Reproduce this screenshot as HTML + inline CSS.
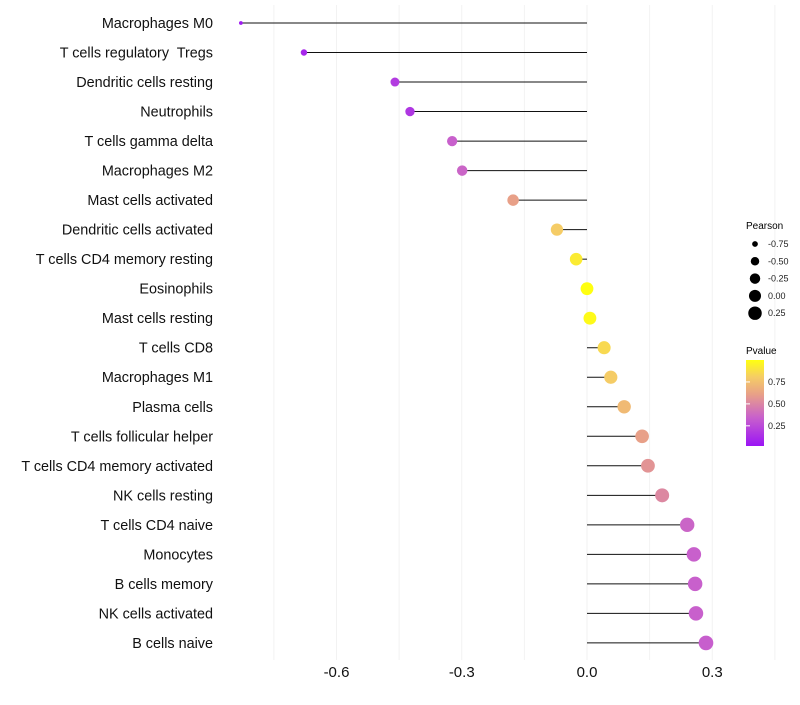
<!DOCTYPE html>
<html><head><meta charset="utf-8"><style>
body{margin:0;background:#fff;font-family:"Liberation Sans",sans-serif}
text{white-space:pre}
</style></head><body>
<svg id="chart" width="800" height="700" xmlns="http://www.w3.org/2000/svg">
<defs><linearGradient id="pg" x1="0" y1="1" x2="0" y2="0">
<stop offset="0" stop-color="#9b14f5"/><stop offset="0.33" stop-color="#c860cc"/>
<stop offset="0.6" stop-color="#e8a088"/><stop offset="0.8" stop-color="#f5cc66"/><stop offset="1" stop-color="#ffff10"/>
</linearGradient></defs>
<g id="grid"></g><g id="marks"></g><g id="labels"></g>
<g font-size="9">
<text x="746" y="229" font-size="10">Pearson</text>
<g id="sizeLeg"></g></g>
<g font-size="9">
<text x="746" y="354" font-size="10">Pvalue</text>
<rect x="746" y="360" width="18" height="86" fill="url(#pg)"/>
<g id="cbTicks"></g></g>
</svg>
<script>
const categories=["Macrophages M0","T cells regulatory  Tregs","Dendritic cells resting","Neutrophils","T cells gamma delta","Macrophages M2","Mast cells activated","Dendritic cells activated","T cells CD4 memory resting","Eosinophils","Mast cells resting","T cells CD8","Macrophages M1","Plasma cells","T cells follicular helper","T cells CD4 memory activated","NK cells resting","T cells CD4 naive","Monocytes","B cells memory","NK cells activated","B cells naive"];
const pearson=[-0.829,-0.678,-0.46,-0.424,-0.323,-0.299,-0.177,-0.072,-0.026,0.0,0.007,0.041,0.057,0.089,0.132,0.146,0.18,0.24,0.256,0.259,0.261,0.285];
const pvalue=[0.03,0.08,0.17,0.15,0.33,0.35,0.6,0.8,0.92,1.0,0.98,0.85,0.8,0.72,0.6,0.55,0.5,0.35,0.33,0.33,0.33,0.32];
const xTicks=[-0.6,-0.3,0.0,0.3];
const xTickLabels=["-0.6","-0.3","0.0","0.3"];
const sizeBreaks=[-0.75,-0.5,-0.25,0,0.25];
const sizeLabels=["-0.75","-0.50","-0.25","0.00","0.25"];
const pBreaks=[0.25,0.5,0.75];
const pLabels=["0.25","0.50","0.75"];
const NS="http://www.w3.org/2000/svg";
const x=v=>587+v*417.5;
const y=i=>23+i*29.52;
const r=v=>Math.sqrt(Math.max(1.5,3.5+45*(v+0.83)));
const cb=p=>446-(p-0.02)/(1.0-0.02)*86;
function lerp(a,b,t){return a.map((c,k)=>Math.round(c+(b[k]-c)*t));}
const stops=[[0,[155,20,245]],[0.33,[200,96,204]],[0.6,[232,160,136]],[0.8,[245,204,102]],[1,[255,255,16]]];
function col(p){for(let k=1;k<stops.length;k++){if(p<=stops[k][0]){const t=(p-stops[k-1][0])/(stops[k][0]-stops[k-1][0]);return "rgb("+lerp(stops[k-1][1],stops[k][1],t).join(",")+")";}}return "rgb(255,255,16)";}
function mk(tag,attrs,parent){const e=document.createElementNS(NS,tag);for(const k in attrs)e.setAttribute(k,attrs[k]);parent.appendChild(e);return e;}
const grid=document.getElementById('grid'),marks=document.getElementById('marks'),labels=document.getElementById('labels');
for(let v=-0.75;v<=0.46;v+=0.15){const g=mk('line',{x1:x(v),x2:x(v),y1:5,y2:660,stroke:'#f2f2f2','stroke-width':1},grid);

}
xTicks.forEach((t,i)=>{const tx=mk('text',{x:x(t),y:677,'text-anchor':'middle','font-size':15,fill:'#111'},labels);tx.textContent=xTickLabels[i];

});
categories.forEach((c,i)=>{
const t=mk('text',{x:213,y:y(i)+5,'text-anchor':'end','font-size':14.4,fill:'#111'},labels);t.textContent=c;


const l=mk('line',{x1:x(0),x2:x(pearson[i]),y1:y(i),y2:y(i),stroke:'#111','stroke-width':1},marks);


const d=mk('circle',{cx:x(pearson[i]),cy:y(i),r:r(pearson[i]),fill:col(pvalue[i])},marks);


});
const sl=document.getElementById('sizeLeg');
sizeBreaks.forEach((b,i)=>{const cy=244+i*17.3;
const c=mk('circle',{cx:755,cy:cy,r:r(b)*0.85+0.6,fill:'#000'},sl);


const t=mk('text',{x:768,y:cy+3,fill:'#222'},sl);t.textContent=sizeLabels[i];

});
const ct=document.getElementById('cbTicks');
pBreaks.forEach((b,i)=>{const yy=cb(b);
const l=mk('line',{x1:746,x2:750,y1:yy,y2:yy,stroke:'#fff'},ct);


const t=mk('text',{x:768,y:yy+3,fill:'#222'},ct);t.textContent=pLabels[i];

});
</script>
</body></html>
